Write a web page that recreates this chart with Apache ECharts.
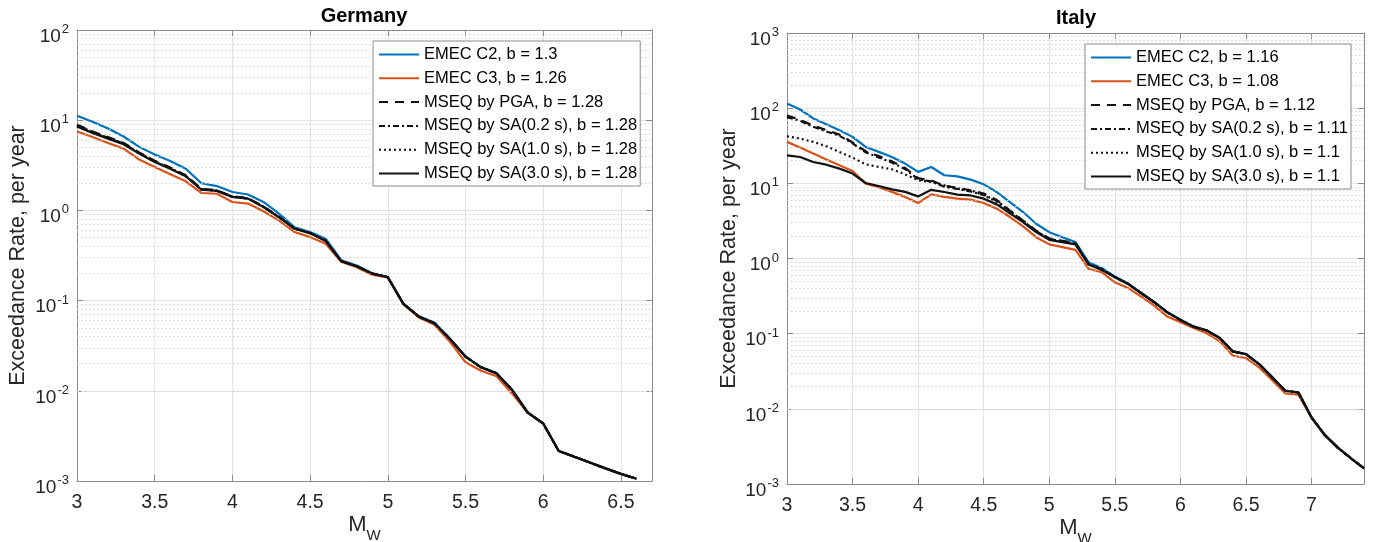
<!DOCTYPE html>
<html><head><meta charset="utf-8">
<script src="https://cdn.jsdelivr.net/npm/echarts@6/dist/echarts.min.js"></script>
<style>html,body{margin:0;padding:0;background:#fff}#c{width:1373px;height:542px}</style>
</head><body><div id="c"></div>
<script>
const FONT = '"Liberation Sans", Arial, Helvetica, sans-serif';

// ---------- Germany ----------
const magGermany = [3.0,3.1,3.2,3.3,3.4,3.5,3.6,3.7,3.8,3.9,4.0,4.1,4.2,4.3,4.4,4.5,4.6,4.7,4.8,4.9,5.0,5.1,5.2,5.3,5.4,5.5,5.6,5.7,5.8,5.9,6.0,6.1,6.2,6.3,6.4,6.5,6.6];
const deC2   = [11.2,9.6,8.1,6.6,5.06,4.16,3.53,2.9,2.0,1.86,1.6,1.5,1.24,0.92,0.65,0.575,0.485,0.28,0.245,0.2,0.183,0.093,0.067,0.057,0.038,0.024,0.0183,0.0157,0.0103,0.0058,0.00435,0.00215,0.00186,0.0016,0.00138,0.0012,0.00106];
const deC3   = [7.5,6.5,5.6,4.84,3.66,3.03,2.51,2.1,1.56,1.53,1.24,1.19,0.98,0.77,0.575,0.506,0.426,0.27,0.234,0.194,0.18,0.091,0.065,0.054,0.035,0.0207,0.0167,0.0145,0.0093,0.0057,0.00432,0.00215,0.00186,0.0016,0.00138,0.0012,0.00106];
const dePGA  = [8.9,7.5,6.5,5.6,4.4,3.55,2.98,2.45,1.74,1.67,1.43,1.37,1.1,0.85,0.63,0.56,0.46,0.274,0.24,0.2,0.1815,0.092,0.0664,0.056,0.0375,0.0239,0.0182,0.0156,0.0102,0.00574,0.00434,0.00215,0.00186,0.0016,0.00138,0.0012,0.00106];
const deSA02 = [8.8,7.4,6.4,5.5,4.35,3.5,2.95,2.42,1.72,1.66,1.42,1.36,1.1,0.845,0.628,0.56,0.46,0.274,0.24,0.2,0.1815,0.092,0.0664,0.056,0.0375,0.0239,0.0182,0.0156,0.0102,0.00574,0.00434,0.00215,0.00186,0.0016,0.00138,0.0012,0.00106];
const deSA10 = [8.6,7.3,6.3,5.45,4.3,3.47,2.92,2.4,1.71,1.65,1.41,1.355,1.09,0.842,0.626,0.56,0.46,0.274,0.24,0.2,0.1815,0.092,0.0664,0.056,0.0375,0.0239,0.0182,0.0156,0.0102,0.00574,0.00434,0.00215,0.00186,0.0016,0.00138,0.0012,0.00106];
const deSA30 = [8.5,7.2,6.25,5.4,4.26,3.44,2.9,2.39,1.7,1.64,1.41,1.35,1.09,0.84,0.625,0.56,0.46,0.274,0.24,0.2,0.1815,0.092,0.0664,0.056,0.0375,0.0239,0.0182,0.0156,0.0102,0.00574,0.00434,0.00215,0.00186,0.0016,0.00138,0.0012,0.00106];
const namesGermany = ['EMEC C2, b = 1.3','EMEC C3, b = 1.26','MSEQ by PGA, b = 1.28','MSEQ by SA(0.2 s), b = 1.28','MSEQ by SA(1.0 s), b = 1.28','MSEQ by SA(3.0 s), b = 1.28'];

// ---------- Italy ----------
const magItaly = [3.0,3.1,3.2,3.3,3.4,3.5,3.6,3.7,3.8,3.9,4.0,4.1,4.2,4.3,4.4,4.5,4.6,4.7,4.8,4.9,5.0,5.1,5.2,5.3,5.4,5.5,5.6,5.7,5.8,5.9,6.0,6.1,6.2,6.3,6.4,6.5,6.6,6.7,6.8,6.9,7.0,7.1,7.2,7.3,7.4];
const itC2   = [115,96,73,61,51,41.5,30.5,26.2,22.4,18.3,14.2,16.5,12.8,12.4,11.2,9.7,7.66,5.63,4.15,2.9,2.24,1.92,1.65,0.89,0.75,0.575,0.465,0.35,0.265,0.194,0.153,0.125,0.111,0.088,0.058,0.0535,0.0394,0.0262,0.0174,0.0165,0.00766,0.0045,0.00305,0.0022,0.00162];
const itC3   = [35.6,29.9,24.9,20.7,17.4,14.6,9.9,8.9,7.7,6.6,5.47,7.13,6.6,6.25,6.06,5.47,4.6,3.56,2.67,1.92,1.54,1.42,1.3,0.73,0.657,0.483,0.406,0.311,0.236,0.169,0.142,0.119,0.101,0.079,0.0509,0.0474,0.0356,0.0241,0.016,0.0154,0.0076,0.0045,0.00305,0.0022,0.00162];
const itPGA  = [80,70,58.5,51,44.5,35,26.7,23,19.6,16,11.7,10.9,9.3,8.7,8.1,7.3,6.0,4.35,3.2,2.35,1.85,1.72,1.6,0.85,0.72,0.57,0.462,0.346,0.262,0.192,0.152,0.124,0.11,0.0876,0.058,0.0535,0.0394,0.0262,0.0174,0.0165,0.00766,0.0045,0.00305,0.0022,0.00162];
const itSA02 = [76,68,56.5,49,43,34,25.8,22.1,18.9,15.5,11.3,10.6,9.0,8.4,7.8,7.0,5.85,4.3,3.15,2.3,1.82,1.7,1.58,0.84,0.715,0.567,0.46,0.346,0.262,0.192,0.152,0.124,0.11,0.0876,0.058,0.0535,0.0394,0.0262,0.0174,0.0165,0.00766,0.0045,0.00305,0.0022,0.00162];
const itSA10 = [42.3,39.4,35.6,31.1,26.2,22,17.9,16.5,15.4,13.2,11,10.4,9.4,8.5,8.1,6.9,5.7,4.2,3.1,2.28,1.8,1.68,1.56,0.835,0.71,0.565,0.46,0.345,0.262,0.192,0.152,0.124,0.11,0.0876,0.058,0.0535,0.0394,0.0262,0.0174,0.0165,0.00766,0.0045,0.00305,0.0022,0.00162];
const itSA30 = [23.6,22.4,19.2,17.7,15.7,13.5,10.1,9.2,8.3,7.7,6.7,8.2,7.66,7.06,6.9,6.25,5.25,4.0,3.05,2.24,1.77,1.65,1.54,0.83,0.706,0.564,0.459,0.345,0.262,0.192,0.152,0.124,0.11,0.0876,0.058,0.0535,0.0394,0.0262,0.0174,0.0165,0.00766,0.0045,0.00305,0.0022,0.00162];
const namesItaly = ['EMEC C2, b = 1.16','EMEC C3, b = 1.08','MSEQ by PGA, b = 1.12','MSEQ by SA(0.2 s), b = 1.11','MSEQ by SA(1.0 s), b = 1.1','MSEQ by SA(3.0 s), b = 1.1'];

const xTicksGermany = {min: 3, max: 6.7, interval: 0.5};
const xTicksItaly = {min: 3, max: 7.4, interval: 0.5};
const yRangeGermany = {min: 0.001, max: 100};
const yRangeItaly = {min: 0.001, max: 1000};

// ---------- styles ----------
const BLUE = '#0072BD', ORANGE = '#D95319', BLACK = '#111111';
const styles = [
  {color: BLUE, type: 'solid'},
  {color: ORANGE, type: 'solid'},
  {color: BLACK, type: [9, 7]},
  {color: BLACK, type: [6, 3, 2, 3]},
  {color: BLACK, type: [2, 3]},
  {color: BLACK, type: 'solid'}
];
const AXIS = '#8a8a8a', LABEL = '#262626', GRID = '#e4e4e4', MINOR = '#d2d2d2';

function pairs(xs, ys) { return xs.map((x, i) => [x, ys[i]]); }
function lineSeries(name, xs, ys, st, gi, z) {
  return {
    type: 'line', name: name, data: pairs(xs, ys), xAxisIndex: gi * 2, yAxisIndex: gi * 2,
    symbol: 'none', showSymbol: false, z: z, silent: true,
    lineStyle: {color: st.color, width: 2.2, type: st.type, cap: 'butt', join: 'round'},
    itemStyle: {color: st.color}
  };
}
function minorValues(k0, k1) {
  const out = [];
  for (let k = k0; k <= k1; k++) for (let d = 2; d <= 9; d++) out.push(+(d * Math.pow(10, k)).toPrecision(3));
  return out;
}
function minorSeries(gi, vals, x0) {
  return {
    type: 'line', data: [[x0, 1]], xAxisIndex: gi * 2, yAxisIndex: gi * 2, symbol: 'none', z: 1, silent: true,
    lineStyle: {opacity: 0},
    markLine: {
      silent: true, symbol: ['none', 'none'], animation: false, label: {show: false},
      lineStyle: {color: MINOR, width: 1, type: [1.5, 2.5]},
      data: vals.map(v => ({yAxis: v}))
    }
  };
}
function yLabel(v) {
  const e = Math.round(Math.log10(v));
  return '{b|10}{e|' + (e < 0 ? '-' : '') + Math.abs(e) + '}';
}
const yRich = {
  b: {fontSize: 19, padding: [13, 0, 0, 0], verticalAlign: 'bottom', color: LABEL, fontFamily: FONT},
  e: {fontSize: 13, padding: [0, 0, 10, 1], verticalAlign: 'bottom', color: LABEL, fontFamily: FONT}
};
function xAxes(gi, t) {
  const base = {
    type: 'value', gridIndex: gi, min: t.min, max: t.max, interval: t.interval,
    axisLine: {show: true, onZero: false, lineStyle: {color: AXIS, width: 1}},
    axisTick: {show: true, inside: true, length: 6, lineStyle: {color: AXIS}}
  };
  return [
    Object.assign({}, base, {
      position: 'bottom',
      axisLabel: {show: true, margin: 12, fontSize: 19.5, color: LABEL, fontFamily: FONT, showMaxLabel: false},
      splitLine: {show: true, lineStyle: {color: GRID, width: 1}},
      name: '{m|M}{w|W}', nameLocation: 'middle', nameGap: 33, nameMoveOverlap: false,
      nameTextStyle: {rich: {
        m: {fontSize: 22, padding: [0, 0, 7, 0], verticalAlign: 'bottom', color: LABEL, fontFamily: FONT},
        w: {fontSize: 15, verticalAlign: 'bottom', color: LABEL, fontFamily: FONT}
      }}
    }),
    Object.assign({}, base, {position: 'top', axisLabel: {show: false}, splitLine: {show: false}})
  ];
}
function yAxes(gi, r, gap) {
  const base = {
    type: 'log', logBase: 10, gridIndex: gi, min: r.min, max: r.max,
    axisLine: {show: true, onZero: false, lineStyle: {color: AXIS, width: 1}},
    axisTick: {show: true, inside: true, length: 6, lineStyle: {color: AXIS}},
    minorTick: {show: false}
  };
  return [
    Object.assign({}, base, {
      position: 'left',
      axisLabel: {show: true, margin: 8, formatter: yLabel, rich: yRich},
      splitLine: {show: true, lineStyle: {color: GRID, width: 1}},
      name: 'Exceedance Rate, per year', nameLocation: 'middle', nameGap: gap,
      nameTextStyle: {fontSize: 21.5, color: LABEL, fontFamily: FONT}
    }),
    Object.assign({}, base, {position: 'right', axisLabel: {show: false}, splitLine: {show: false}})
  ];
}
function legend(gi, names, left, top) {
  return {
    show: true, orient: 'vertical', left: left, top: top, data: names,
    itemWidth: 40, itemHeight: 14, itemGap: 6.8, padding: [5, 3, 4, 5],
    backgroundColor: '#ffffff', borderColor: AXIS, borderWidth: 1, borderRadius: 0,
    selectedMode: false, z: 10,
    itemStyle: {opacity: 0},
    textStyle: {fontSize: 16.5, color: '#000', fontFamily: FONT}
  };
}

const series = [];
series.push(minorSeries(0, minorValues(-3, 1), 3));
series.push(minorSeries(1, minorValues(-3, 2), 3));
const deData = [deC2, deC3, dePGA, deSA02, deSA10, deSA30];
const itData = [itC2, itC3, itPGA, itSA02, itSA10, itSA30];
deData.forEach((d, i) => series.push(lineSeries(namesGermany[i], magGermany, d, styles[i], 0, 3 + i)));
itData.forEach((d, i) => series.push(lineSeries(namesItaly[i], magItaly, d, styles[i], 1, 3 + i)));

const chart = echarts.init(document.getElementById('c'), null, {renderer: 'canvas'});
chart.setOption({
  animation: false,
  backgroundColor: '#ffffff',
  textStyle: {fontFamily: FONT},
  grid: [
    {left: 77, top: 30, width: 575, height: 451, containLabel: false, outerBoundsMode: 'none'},
    {left: 787, top: 33, width: 577, height: 451, containLabel: false, outerBoundsMode: 'none'}
  ],
  xAxis: xAxes(0, xTicksGermany).concat(xAxes(1, xTicksItaly)),
  yAxis: yAxes(0, yRangeGermany, 48).concat(yAxes(1, yRangeItaly, 47)),
  legend: [legend(0, namesGermany, 373, 41), legend(1, namesItaly, 1085, 44)],
  graphic: [
    {type: 'text', x: 364, y: 16, silent: true, style: {text: 'Germany', font: 'bold 20px ' + FONT, align: 'center', verticalAlign: 'middle', fill: '#000'}},
    {type: 'text', x: 1076, y: 18, silent: true, style: {text: 'Italy', font: 'bold 20px ' + FONT, align: 'center', verticalAlign: 'middle', fill: '#000'}}
  ],
  series: series
});
</script>
</body></html>
